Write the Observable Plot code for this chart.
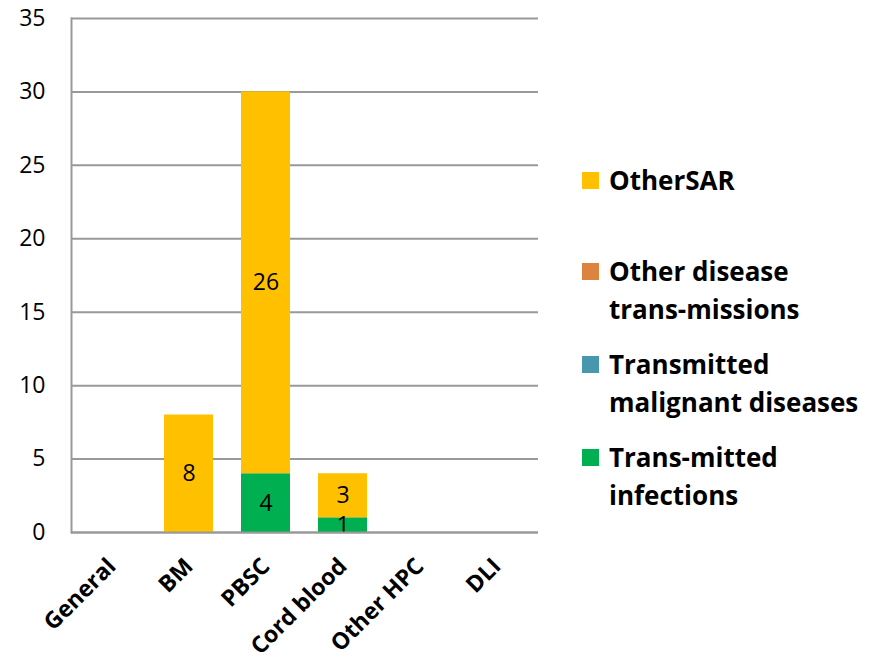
<!DOCTYPE html>
<html>
<head>
<meta charset="utf-8">
<script src="https://cdn.jsdelivr.net/npm/d3@7"></script>
<script src="https://cdn.jsdelivr.net/npm/@observablehq/plot@0.6"></script>
<style>
  body { margin: 0; background: #fff; }
  #wrap { position: relative; width: 869px; height: 661px; font-family: "Open Sans", sans-serif; }
  #legend { position: absolute; left: 582px; top: 0; width: 287px; }
  .item { position: absolute; left: 0; display: flex; align-items: flex-start; }
  .sw { width: 17px; height: 17px; margin-top: 11px; margin-right: 10px; flex: none; }
  .lbl { font-weight: bold; font-size: 26px; line-height: 38px; color: #000; white-space: nowrap; }
</style>
</head>
<body>
<div id="wrap"></div>
<script>
const categories = ["General", "BM", "PBSC", "Cord blood", "Other HPC", "DLI"];
const seriesNames = ["Trans-mitted infections", "Transmitted malignant diseases", "Other disease trans-missions", "OtherSAR"];
const legendLines = [["OtherSAR"], ["Other disease", "trans-missions"], ["Transmitted", "malignant diseases"], ["Trans-mitted", "infections"]];
const legendOrder = ["OtherSAR", "Other disease trans-missions", "Transmitted malignant diseases", "Trans-mitted infections"];
const seriesColors = ["#00B050", "#4797AF", "#DC843F", "#FFC000"];
const infections = [0, 0, 4, 1, 0, 0];
const malignant = [0, 0, 0, 0, 0, 0];
const otherDisease = [0, 0, 0, 0, 0, 0];
const otherSAR = [0, 8, 26, 3, 0, 0];
const yTicks = [0, 5, 10, 15, 20, 25, 30, 35];

const seriesValues = [infections, malignant, otherDisease, otherSAR];
const rows = [];
seriesNames.forEach((s, si) => categories.forEach((c, ci) => rows.push({category: c, series: s, value: seriesValues[si][ci]})));

const chart = Plot.plot({
  width: 869,
  height: 661,
  marginLeft: 71,
  marginRight: 331,
  marginTop: 18,
  marginBottom: 129,
  style: {fontFamily: "'Open Sans', sans-serif", fontSize: "23px", color: "#000", background: "#fff"},
  x: {domain: categories, paddingInner: 0.36, paddingOuter: 0.18, label: null},
  y: {domain: [0, 35], label: null},
  color: {domain: seriesNames, range: seriesColors},
  marks: [
    Plot.gridY(yTicks, {stroke: "#999", strokeOpacity: 1, strokeWidth: 2}),
    Plot.axisY(yTicks, {tickSize: 0, tickPadding: 26, fontSize: 23, label: null}),
    Plot.axisX({tickSize: 0, tickPadding: 30, tickRotate: -45, fontSize: 23, fontWeight: "bold", label: null}),
    Plot.barY(rows, {x: "category", y: "value", fill: "series", order: seriesNames}),
    Plot.text(rows, Plot.stackY({x: "category", y: "value", z: "series", order: seriesNames, text: d => d.value > 0 ? String(d.value) : "", fontSize: 23, fill: "#000"})),
    Plot.ruleY([0], {stroke: "#999", strokeWidth: 2}),
    Plot.frame({anchor: "left", stroke: "#999", strokeWidth: 2})
  ]
});

const wrap = document.getElementById("wrap");
wrap.appendChild(chart);

const legend = document.createElement("div");
legend.id = "legend";
const tops = [161, 252, 345, 438];
legendOrder.forEach((name, i) => {
  const item = document.createElement("div");
  item.className = "item";
  item.style.top = tops[i] + "px";
  const sw = document.createElement("div");
  sw.className = "sw";
  sw.style.background = seriesColors[seriesNames.indexOf(name)];
  const lbl = document.createElement("div");
  lbl.className = "lbl";
  lbl.innerHTML = legendLines[i].join("<br>");
  item.appendChild(sw);
  item.appendChild(lbl);
  legend.appendChild(item);
});
wrap.appendChild(legend);
</script>
</body>
</html>
